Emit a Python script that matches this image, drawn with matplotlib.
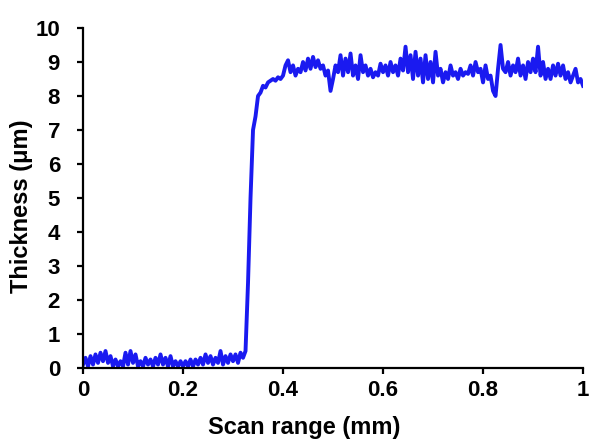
import numpy as np
import matplotlib.pyplot as plt

plt.rcParams['font.family'] = ['Liberation Sans', 'DejaVu Sans']
plt.rcParams['font.weight'] = 'bold'

step = 0.005  # mm between profile samples

# substrate, 0 - 0.32 mm
thickness_base = [
    0.1, 0.3, 0.05, 0.35, 0.1, 0.4, 0.15, 0.45, 0.2, 0.5,
    0.15, 0.35, 0.05, 0.25, 0.05, 0.2, 0.05, 0.45, 0.1, 0.5,
    0.15, 0.4, 0.05, 0.2, 0.05, 0.3, 0.1, 0.25, 0.05, 0.3,
    0.1, 0.4, 0.1, 0.3, 0.05, 0.35, 0.05, 0.2, 0.05, 0.2,
    0.05, 0.2, 0.05, 0.25, 0.05, 0.25, 0.1, 0.3, 0.1, 0.4,
    0.15, 0.35, 0.1, 0.3, 0.15, 0.5, 0.1, 0.35, 0.15, 0.4,
    0.2, 0.4, 0.15, 0.45, 0.3,
]
# step edge and film, 0.325 - 1.0 mm
thickness_film = [
    0.5, 2.5, 5.0, 7.0, 7.4, 8.0, 8.1, 8.3, 8.25, 8.4,
    8.45, 8.5, 8.45, 8.55, 8.5, 8.6, 8.9, 9.05, 8.7, 8.9,
    8.6, 8.8, 8.7, 9.0, 8.75, 9.1, 8.8, 9.15, 8.85, 9.05,
    8.8, 8.9, 8.6, 8.75, 8.15, 8.5, 8.9, 8.7, 9.2, 8.6,
    9.1, 8.7, 9.25, 8.6, 8.9, 8.5, 9.2, 8.7, 8.9, 8.6,
    8.8, 8.55, 8.7, 8.6, 8.95, 8.7, 8.9, 8.6, 9.0, 8.7,
    8.9, 8.6, 9.1, 8.75, 9.45, 8.7, 9.2, 8.5, 9.3, 8.6,
    9.1, 8.4, 9.2, 8.5, 9.0, 8.4, 9.3, 8.6, 8.8, 8.4,
    8.7, 8.5, 8.9, 8.6, 8.7, 8.5, 8.8, 8.6, 8.7, 8.65,
    8.9, 8.6, 9.0, 8.7, 8.8, 8.4, 8.9, 8.5, 8.6, 8.15,
    8.0, 8.8, 9.5, 8.8, 8.7, 9.0, 8.6, 8.9, 8.7, 9.1,
    8.6, 8.9, 8.5, 9.0, 8.7, 9.1, 8.7, 9.45, 8.6, 9.0,
    8.5, 8.8, 8.5, 8.9, 8.6, 8.95, 8.6, 8.9, 8.5, 8.7,
    8.4, 8.6, 8.8, 8.4, 8.5, 8.3,
]

thickness = np.array(thickness_base + thickness_film)
scan = np.arange(len(thickness)) * step

fig = plt.figure(figsize=(5.98, 4.43), dpi=100)
ax = fig.add_axes([0.1388, 0.1693, 0.8362, 0.7675])

ax.plot(scan, thickness, color='#1a1af0', linewidth=2.8)

ax.set_xlim(0, 1)
ax.set_ylim(0, 10)
ax.set_xticks([0, 0.2, 0.4, 0.6, 0.8, 1])
ax.set_xticklabels(['0', '0.2', '0.4', '0.6', '0.8', '1'])
ax.set_yticks(range(0, 11))

for s in ['top', 'right']:
    ax.spines[s].set_visible(False)
for s in ['left', 'bottom']:
    ax.spines[s].set_linewidth(1.6)
ax.tick_params(direction='out', length=4.5, width=1.6, labelsize=16)
ax.tick_params(axis='y', pad=12)
ax.tick_params(axis='x', pad=4)

ax.set_xlabel('Scan range (mm)', fontsize=17, fontweight='bold')
ax.set_ylabel('Thickness (μm)', fontsize=17, fontweight='bold')
ax.xaxis.set_label_coords(0.442, -0.14)
ax.yaxis.set_label_coords(-0.1, 0.476)

fig.savefig('out.png', dpi=100)
